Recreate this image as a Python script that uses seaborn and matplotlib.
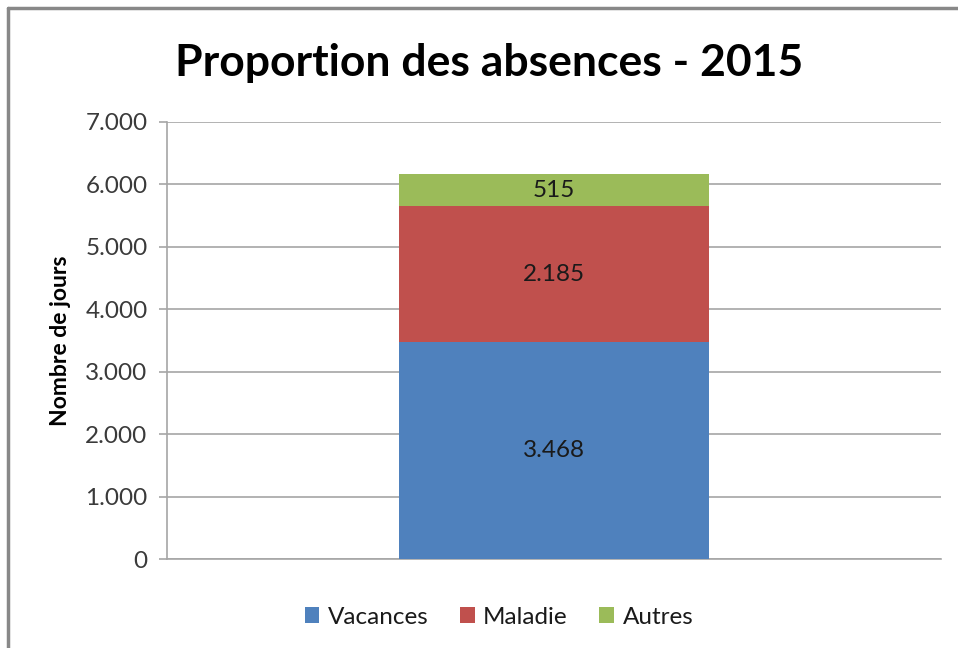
import matplotlib
matplotlib.use("Agg")
import matplotlib.pyplot as plt
import seaborn as sns
import pandas as pd
import numpy as np
from matplotlib.patches import Patch
from matplotlib.lines import Line2D

# Data
categories = ["2015"]
series_names = ["Vacances", "Maladie", "Autres"]
vacances = [3468]
maladie = [2185]
autres = [515]
colors = ["#4F81BD", "#C0504D", "#9BBB59"]
y_ticks = [0, 1000, 2000, 3000, 4000, 5000, 6000, 7000]

def fmt(v):
    return f"{int(v):,}".replace(",", ".")

sns.set_theme(style="white")
plt.rcParams["font.family"] = ["Lato", "DejaVu Sans"]

fig = plt.figure(figsize=(9.58, 6.48), dpi=100)
ax = fig.add_axes([167/958, 1-559/648, (941-167)/958, (559-122)/648])

df = pd.DataFrame({"cat": categories, "Vacances": vacances,
                   "Maladie": maladie, "Autres": autres})
df["c1"] = df["Vacances"]
df["c2"] = df["Vacances"] + df["Maladie"]
df["c3"] = df["c2"] + df["Autres"]

for col, c in zip(["c3", "c2", "c1"], colors[::-1]):
    sns.barplot(data=df, x="cat", y=col, color=c, width=0.4, ax=ax,
                saturation=1, zorder=3, linewidth=0)

ax.set_xlim(-0.5, 0.5)
ax.set_ylim(0, 7000)
ax.set_yticks(y_ticks)
ax.set_yticklabels([fmt(t) for t in y_ticks], fontsize=17.5, color="#3a3a3a")
ax.set_xticks([])
ax.set_xlabel("")
ax.set_ylabel("Nombre de jours", fontsize=16.5, fontweight="bold", color="black", labelpad=10)
ax.grid(axis="y", color="#A6A6A6", linewidth=1.2, zorder=0)
ax.tick_params(axis="y", length=6, width=1.2, color="#A6A6A6", pad=8, left=True, direction="out")
for s in ["top", "right"]:
    ax.spines[s].set_visible(False)
for s in ["left", "bottom"]:
    ax.spines[s].set_color("#A6A6A6")
    ax.spines[s].set_linewidth(1.2)

# labels
bottoms = [0, vacances[0], vacances[0] + maladie[0]]
for b, v in zip(bottoms, [vacances[0], maladie[0], autres[0]]):
    ax.text(0, b + v/2, fmt(v), ha="center", va="center", fontsize=17.5, color="#1a1a1a", zorder=5)

fig.text(489/958, 1-63/648, "Proportion des absences - 2015", ha="center", va="center",
         fontsize=32, fontweight="bold", color="black")

handles = [Patch(facecolor=c, edgecolor="none") for c in colors]
leg = fig.legend(handles, series_names, loc="center", bbox_to_anchor=(499/958, 1-617/648),
                 ncol=3, frameon=False, fontsize=17.5, handlelength=0.6, handleheight=0.6,
                 handletextpad=0.35, columnspacing=1.3)
for t in leg.get_texts():
    t.set_color("#1a1a1a")

# chart border (left and top visible)
fig.add_artist(Line2D([8/958, 8/958], [0, 1-8/648], color="#888888", linewidth=2.5, transform=fig.transFigure))
fig.add_artist(Line2D([8/958, 1], [1-8/648, 1-8/648], color="#888888", linewidth=2.5, transform=fig.transFigure))

fig.savefig("out.png", dpi=100)
